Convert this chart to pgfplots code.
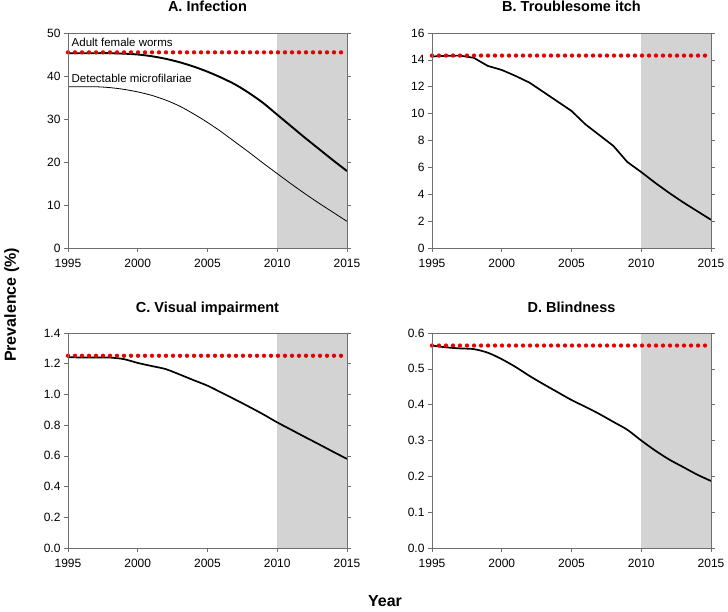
\documentclass[border=0pt]{standalone}
\usepackage{pgfplots}
\pgfplotsset{compat=1.18}
\usepackage{fontspec}
\setmainfont{Liberation Sans}
\definecolor{band}{RGB}{211,211,211}
\definecolor{dotred}{RGB}{230,0,0}
\definecolor{frame}{RGB}{110,110,110}
\pgfplotsset{
  panel/.style={
    scale only axis, width=279pt, height=215pt,
    xmin=1995, xmax=2015, xtick={1995,2000,2005,2010,2015},
    xticklabel style={/pgf/number format/1000 sep={}, yshift=-4pt},
    tick align=outside, xtick pos=left, ytick pos=both,
    major tick length=4pt,
    tick style={frame, line width=0.6pt},
    axis line style={frame, line width=0.7pt},
    axis on top,
    ticklabel style={font=\fontsize{12}{14}\selectfont},
    /pgf/number format/assume math mode=true,
    title style={font=\bfseries\fontsize{14.5}{16}\selectfont, at={(0.5,1)}, anchor=base, yshift=15pt},
    clip=false,
  },
  redline/.style={dotred, line width=4.3pt, line cap=round, dash pattern=on 0pt off 7pt},
}
\begin{document}
\begin{tikzpicture}
\path[use as bounding box] (0,0) rectangle (728pt,611pt);
% A
\begin{axis}[panel, at={(68pt,363pt)}, anchor=south west, title={A. Infection}, ymin=0, ymax=50, ytick={0,10,...,50}]
\addplot[fill=band, draw=none] coordinates {(2010,50) (2015,50)} \closedcycle;
\addplot[black, line width=0.8pt, smooth] coordinates {
(1995,37.5) (1996,37.5) (1997,37.5) (1998,37.3) (1999,36.9) (2000,36.3) (2001,35.5) (2002,34.4) (2003,33.0) (2004,31.2) (2005,29.2) (2006,27.0) (2007,24.6) (2008,22.2) (2009,19.7) (2010,17.3) (2011,14.9) (2012,12.6) (2013,10.4) (2014,8.3) (2015,6.2)};
\addplot[black, line width=1.9pt, smooth] coordinates {
(1995,45.3) (1996,45.3) (1997,45.3) (1998,45.3) (1999,45.2) (2000,45.0) (2001,44.6) (2002,44.0) (2003,43.2) (2004,42.2) (2005,41.0) (2006,39.6) (2007,38.0) (2008,36.0) (2009,33.7) (2010,31.0) (2011,28.3) (2012,25.6) (2013,23.0) (2014,20.4) (2015,17.9)};
\addplot[redline] coordinates {(1995,45.5) (2015,45.5)};
\node[anchor=base west, font=\fontsize{11.5}{13}\selectfont, inner sep=0pt] at (axis cs:1995.25,46.9) {Adult female worms};
\node[anchor=base west, font=\fontsize{11.5}{13}\selectfont, inner sep=0pt] at (axis cs:1995.25,38.4) {Detectable microfilariae};
\end{axis}
% B
\begin{axis}[panel, at={(432pt,363pt)}, anchor=south west, title={B. Troublesome itch}, ymin=0, ymax=16, ytick={0,2,...,16}]
\addplot[fill=band, draw=none] coordinates {(2010,16) (2015,16)} \closedcycle;
\addplot[black, line width=1.7pt] coordinates {
(1995,14.25) (1996,14.30) (1997,14.32) (1998,14.15) (1999,13.55) (2000,13.25) (2001,12.8) (2002,12.3) (2003,11.6) (2004,10.9) (2005,10.2) (2006,9.2) (2007,8.4) (2008,7.6) (2009,6.4) (2010,5.65) (2011,4.85) (2012,4.1) (2013,3.4) (2014,2.75) (2015,2.1)};
\addplot[redline] coordinates {(1995,14.32) (2015,14.32)};
\end{axis}
% C
\begin{axis}[panel, at={(68pt,63pt)}, anchor=south west, title={C. Visual impairment}, ymin=0, ymax=1.4, ytick={0,0.2,...,1.4},
  yticklabel style={/pgf/number format/.cd, fixed, fixed zerofill, precision=1}]
\addplot[fill=band, draw=none] coordinates {(2010,1.4) (2015,1.4)} \closedcycle;
\addplot[black, line width=1.7pt, smooth] coordinates {
(1995,1.243) (1996,1.24) (1997,1.24) (1998,1.24) (1999,1.23) (2000,1.205) (2001,1.185) (2002,1.165) (2003,1.13) (2004,1.093) (2005,1.057) (2006,1.012) (2007,0.966) (2008,0.919) (2009,0.87) (2010,0.818) (2011,0.77) (2012,0.722) (2013,0.675) (2014,0.627) (2015,0.58)};
\addplot[redline] coordinates {(1995,1.252) (2015,1.252)};
\end{axis}
% D
\begin{axis}[panel, at={(432pt,63pt)}, anchor=south west, title={D. Blindness}, ymin=0, ymax=0.6, ytick={0,0.1,...,0.6},
  yticklabel style={/pgf/number format/.cd, fixed, fixed zerofill, precision=1}]
\addplot[fill=band, draw=none] coordinates {(2010,0.6) (2015,0.6)} \closedcycle;
\addplot[black, line width=1.7pt, smooth] coordinates {
(1995,0.565) (1996,0.56) (1997,0.557) (1998,0.555) (1999,0.545) (2000,0.527) (2001,0.505) (2002,0.48) (2003,0.457) (2004,0.435) (2005,0.413) (2006,0.394) (2007,0.374) (2008,0.352) (2009,0.33) (2010,0.30) (2011,0.272) (2012,0.247) (2013,0.226) (2014,0.205) (2015,0.187)};
\addplot[redline] coordinates {(1995,0.565) (2015,0.565)};
\end{axis}
\node[rotate=90, anchor=base, font=\bfseries\fontsize{16}{18}\selectfont] at (16pt,306pt) {Prevalence (\%)};
\node[anchor=base, font=\bfseries\fontsize{16}{18}\selectfont] at (385pt,4.3pt) {Year};
\end{tikzpicture}
\end{document}
